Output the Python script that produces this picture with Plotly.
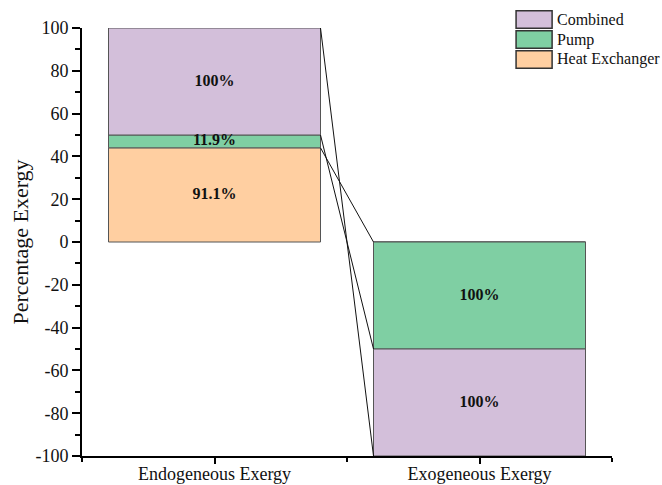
import plotly.graph_objects as go

categories = ["Endogeneous Exergy", "Exogeneous Exergy"]
series_names = ["Heat Exchanger", "Pump", "Combined"]
heat_exchanger = [44, 0]
pump = [6, -50]
combined = [50, -50]
labels_hx = ["91.1%", ""]
labels_pump = ["11.9%", "100%"]
labels_comb = ["100%", "100%"]
yticks = [-100, -80, -60, -40, -20, 0, 20, 40, 60, 80, 100]

colors = {"Combined": "#D3BFDA", "Pump": "#7FCFA3", "Heat Exchanger": "#FFCFA1"}
values = [heat_exchanger, pump, combined]
labels = [labels_hx, labels_pump, labels_comb]

xpos = [i + 1 for i in range(len(categories))]
bw = 0.8
serif = "Liberation Serif, Times New Roman, serif"

fig = go.Figure()

# stacked bars (positive and negative stacks separately, as relative barmode)
for name, vals in zip(series_names, values):
    fig.add_trace(go.Bar(x=xpos, y=vals, name=name, width=bw,
                         marker=dict(color=colors[name], line=dict(color="#555555", width=1)),
                         showlegend=False, hoverinfo="skip"))

# cumulative tops for connecting lines and label midpoints
pos_cum = [0] * len(xpos)
neg_cum = [0] * len(xpos)
tops = []
mids = []
for vals in values:
    t, m = [], []
    for i, v in enumerate(vals):
        if v >= 0:
            base = pos_cum[i]
            pos_cum[i] += v
            t.append(pos_cum[i]); m.append(base + v / 2)
        else:
            base = neg_cum[i]
            neg_cum[i] += v
            t.append(neg_cum[i]); m.append(base + v / 2)
    tops.append(t); mids.append(m)

for t in tops:
    for i in range(len(xpos) - 1):
        fig.add_trace(go.Scatter(x=[xpos[i] + bw / 2, xpos[i + 1] - bw / 2], y=[t[i], t[i + 1]],
                                 mode="lines", line=dict(color="#111111", width=1),
                                 showlegend=False, hoverinfo="skip"))

for m, lab in zip(mids, labels):
    fig.add_trace(go.Scatter(x=xpos, y=m, mode="text", text=[f"<b>{s}</b>" for s in lab],
                             textfont=dict(family=serif, size=16, color="#111111"),
                             textposition="middle center", showlegend=False, hoverinfo="skip"))

# custom legend (Combined, Pump, Heat Exchanger top to bottom)
legend_order = ["Combined", "Pump", "Heat Exchanger"]
row_tops = [1.0405, 0.9935, 0.947]
box_h = 0.041
for name, yt in zip(legend_order, row_tops):
    fig.add_shape(type="rect", xref="paper", yref="paper", x0=0.819, x1=0.887,
                  y0=yt - box_h, y1=yt, fillcolor=colors[name],
                  line=dict(color="#333333", width=1.5))
    fig.add_annotation(xref="paper", yref="paper", x=0.893, y=yt - box_h / 2,
                       text=name, showarrow=False, xanchor="left", yanchor="middle",
                       font=dict(family=serif, size=16, color="#111111"))

fig.update_layout(
    width=662, height=485,
    margin=dict(l=82, r=50, t=28, b=29),
    barmode="relative",
    plot_bgcolor="white", paper_bgcolor="white",
    font=dict(family=serif, color="#111111"),
    xaxis=dict(range=[0.5, 2.5], tickvals=xpos, ticktext=categories, automargin=False,
               showgrid=False, zeroline=False, showline=True, linecolor="black", linewidth=2,
               ticks="outside", ticklen=6, tickwidth=2, tickcolor="black",
               ticklabelstandoff=-6,
               tickfont=dict(family=serif, size=18, color="#111111"),
               minor=dict(tick0=0.5, dtick=0.5, ticks="outside", ticklen=4, tickwidth=2, tickcolor="black"),
               fixedrange=True),
    yaxis=dict(range=[-100, 100], tickvals=yticks, ticktext=[str(v) for v in yticks],
               automargin=False, showgrid=False, zeroline=False,
               showline=True, linecolor="black", linewidth=2,
               ticks="outside", ticklen=8, tickwidth=2, tickcolor="black",
               tickfont=dict(family=serif, size=18, color="#111111"),
               minor=dict(dtick=10, ticks="outside", ticklen=5, tickwidth=2, tickcolor="black"),
               title=dict(text="Percentage Exergy", font=dict(family=serif, size=22, color="#111111"),
                          standoff=1),
               fixedrange=True),
)

fig.write_html("out.html")
